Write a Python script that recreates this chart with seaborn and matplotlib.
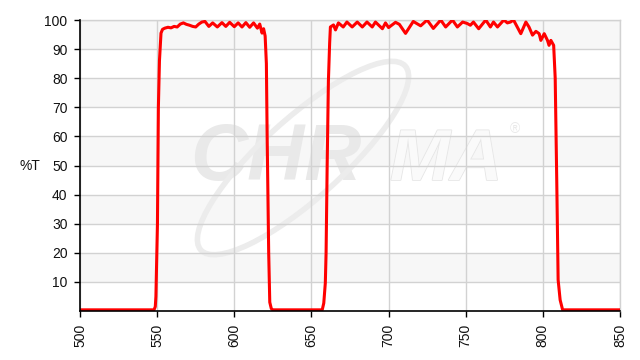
import matplotlib
matplotlib.use("Agg")
import matplotlib.pyplot as plt
import matplotlib.patheffects as pe
from matplotlib.patches import Ellipse
from matplotlib.transforms import IdentityTransform
import seaborn as sns
import pandas as pd

# ---- data ----
band1_nm = [500, 548, 548.8, 549.2, 550.2, 550.8, 551.5, 552.5, 553.5, 555, 557, 559,
            561, 563, 565, 567, 569, 571, 573, 575, 577, 579, 581, 583.5, 586, 589,
            592, 594.5, 597, 600, 602.5, 605, 607.5, 610, 612.5, 615, 616.5, 618,
            619, 620, 620.8, 621.3, 621.8, 622.3, 623, 624, 625]
band1_T = [0.4, 0.4, 1.5, 5, 30, 70, 86, 95.5, 96.8, 97.2, 97.5, 97.3,
           97.8, 97.6, 98.6, 99.0, 98.5, 98.2, 97.8, 97.6, 98.6, 99.3, 99.5, 97.8, 99.0, 97.6,
           99.1, 97.8, 99.2, 97.7, 99.0, 97.6, 99.1, 97.5, 99.0, 97.2, 98.6, 95.5,
           97.0, 94.5, 85, 60, 40, 20, 3, 0.8, 0.4]

band2_nm = [657, 658, 659, 659.5, 660.2, 661, 661.8, 662.3, 664.3, 665.6, 667.5, 670.6,
            673, 676.4, 679.7, 683, 686, 689.4, 691.5, 696, 698, 700, 704.5, 707, 711,
            716, 720.8, 725, 729, 733.8, 737, 741.4, 744.6, 748, 751, 753, 755, 758.4,
            763, 766, 768, 770.6, 774.7, 777, 779, 781, 785.7, 789, 791, 793.3, 795.5,
            797.6, 798.7, 800.9, 803, 804, 805.2, 807, 808, 809, 809.9, 811.2, 812.8, 850]
band2_T = [0.4, 2.7, 9.6, 20, 50, 79, 92, 97.6, 98.3, 96.6, 99.0, 97.6,
           99.3, 97.6, 99.3, 97.6, 99.3, 97.6, 99.3, 97.0, 99.0, 97.4, 99.2, 98.5, 95.4,
           99.5, 98.0, 100, 97.1, 100, 97.6, 100, 97.6, 99.3, 98.8, 98.2, 99.3, 97.0,
           100, 97.6, 99.3, 97.6, 100, 99.0, 99.3, 100, 95.3, 99.3, 97.6, 94.8, 96.1,
           95.3, 93.0, 95.3, 93.0, 91.3, 93.0, 91.3, 80, 45, 10.7, 3.8, 0.4, 0.4]

x_ticks = [500, 550, 600, 650, 700, 750, 800, 850]
y_ticks = [10, 20, 30, 40, 50, 60, 70, 80, 90, 100]

df = pd.DataFrame({"nm": band1_nm + band2_nm, "T": band1_T + band2_T})

# ---- style ----
sns.set_style("white")
plt.rcParams["font.family"] = ["Liberation Sans", "DejaVu Sans"]

fig = plt.figure(figsize=(6.4, 3.6), dpi=100)
ax = fig.add_axes([80 / 640, 49 / 360, 540 / 640, 291 / 360])

# alternating bands
for lo in range(10, 100, 20):
    ax.axhspan(lo, lo + 10, color="#f7f7f7", zorder=0.1, lw=0)

# watermark
wm = "#e9e9e9"
ax.text(190, 360 - 180, "CHR", transform=IdentityTransform(), fontsize=57,
        fontweight="bold", fontstyle="italic", color=wm, zorder=0.3,
        ha="left", va="baseline")
t = ax.text(390, 360 - 180, "MA", transform=IdentityTransform(), fontsize=52,
            fontweight="bold", fontstyle="italic", color="#fafafa", zorder=0.3,
            ha="left", va="baseline")
t.set_path_effects([pe.withStroke(linewidth=1.2, foreground="#e6e6e6")])
ax.text(510, 360 - 133, "®", transform=IdentityTransform(), fontsize=10,
        color=wm, zorder=0.3)
ax.add_patch(Ellipse((303, 360 - 158), 275, 80, angle=42, fill=False,
                     edgecolor="#ececec", lw=4, transform=IdentityTransform(),
                     zorder=0.3, clip_on=False))

sns.lineplot(data=df, x="nm", y="T", ax=ax, color="#ff0000", lw=2.2,
             sort=False, zorder=3)

ax.set_xlim(500, 850)
ax.set_ylim(0, 100)
ax.set_xticks(x_ticks)
ax.set_yticks(y_ticks)
ax.set_xticklabels([str(v) for v in x_ticks], rotation=90)
ax.grid(True, color="#d2d2d2", lw=1, zorder=0.5)
ax.set_axisbelow(True)
ax.tick_params(axis="both", which="both", direction="out", length=4, width=1,
               color="black", labelsize=10, labelcolor="#111111", pad=5,
               bottom=True, left=True)
for s in ["top", "right"]:
    ax.spines[s].set_color("#d2d2d2")
    ax.spines[s].set_linewidth(1)
for s in ["left", "bottom"]:
    ax.spines[s].set_color("black")
    ax.spines[s].set_linewidth(1.2)
    ax.spines[s].set_zorder(4)
ax.set_xlabel("")
ax.set_ylabel("")
fig.text(30 / 640, 1 - 166 / 360, "%T", ha="center", va="center", fontsize=10,
         color="#111111")

fig.savefig("out.png", dpi=100)
